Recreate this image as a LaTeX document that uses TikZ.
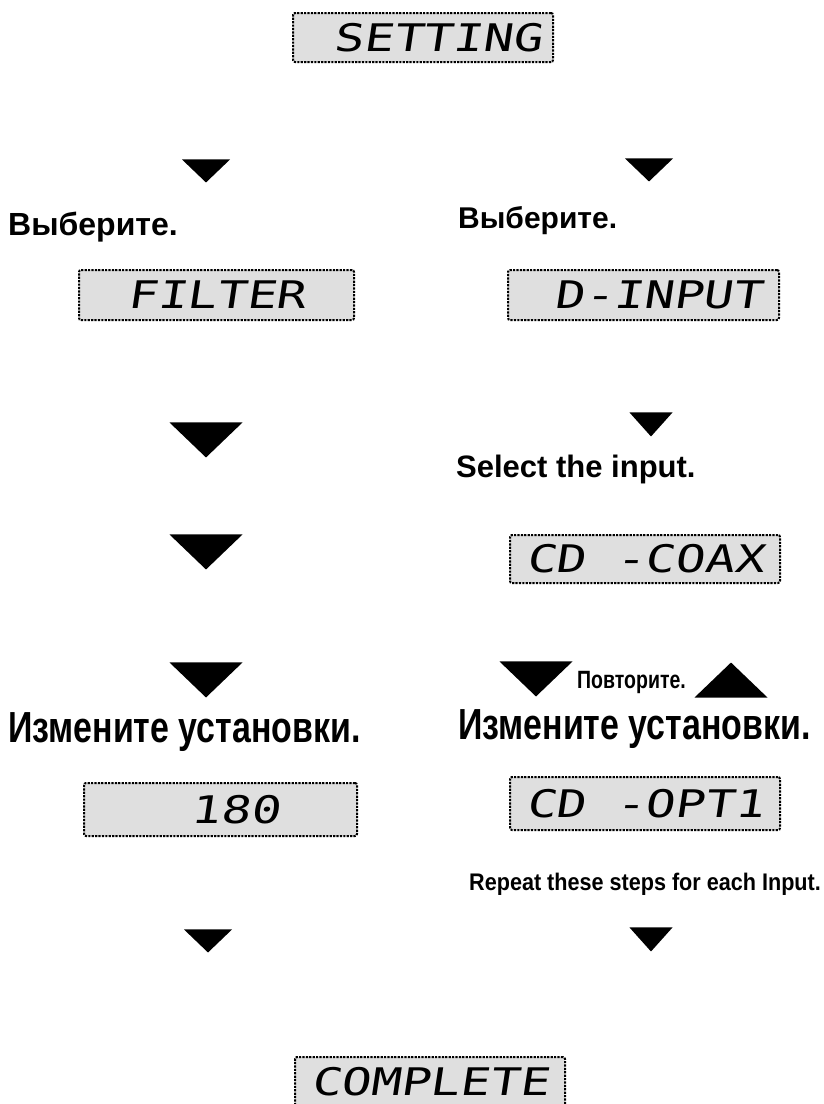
\documentclass[tikz,border=0pt]{standalone}
\usepackage{fontspec}
\newfontfamily\condfont[FakeStretch=0.78]{Liberation Sans}
\newfontfamily\notefont[FakeStretch=0.9]{Liberation Sans}
\newfontfamily\stepfont{Liberation Sans}
\newfontfamily\lcdfont[FakeStretch=1.3,FakeSlant=0.15]{DejaVu Sans Mono}
\usepackage{tikz}
\usetikzlibrary{shapes.geometric,positioning}

\begin{document}
\begin{tikzpicture}[
  x=1pt,
  y=-1pt,
  lcd/.style={
    draw,
    line width=2pt,
    dash pattern=on 2.2pt off 1.2pt,
    fill=gray!25,
    rounded corners=2pt,
    minimum width=270,
    minimum height=50,
    inner sep=0pt,
    font=\lcdfont\fontsize{38}{38}\selectfont
    },
  down/.style={
    isosceles triangle,
    isosceles triangle stretches,
    shape border rotate=-90,
    fill=black,
    inner sep=0pt,
    anchor=apex
    },
  up/.style={
    down,
    shape border rotate=90
    },
  bigtri/.style={minimum width=73, minimum height=35},
  midtri/.style={minimum width=48, minimum height=23},
  smalltri/.style={minimum width=43, minimum height=24},
  stepbox/.style={
    inner sep=0pt,
    anchor=base west,
    font=\stepfont\bfseries\fontsize{30}{30}\selectfont
    },
  headbox/.style={
    inner sep=0pt,
    anchor=base west,
    font=\condfont\bfseries\fontsize{43.5}{44}\selectfont
    },
  notebox/.style={
    inner sep=0pt,
    anchor=base west,
    font=\notefont\bfseries\fontsize{24}{24}\selectfont
    }
]
\useasboundingbox (0,0) rectangle (824,1104);

% displays
\node[lcd, minimum width=260, minimum height=49] (setting) at (423,37.5) {\phantom{X}SETTING};
\node[lcd, minimum width=275] (filter) at (216.5,295) {\phantom{X}FILTER\phantom{X}};
\node[lcd, minimum width=271] (dinput) at (643.5,295) {\phantom{X}D-INPUT};
\node[lcd, minimum height=48] (coax) at (645,559) {CD\phantom{X}-COAX};
\node[lcd, minimum width=273, minimum height=53] (freq) at (220.5,809.5) {\phantom{XXX}180\phantom{XX}};
\node[lcd, minimum height=53] (opt) at (645,803.5) {CD\phantom{X}-OPT1};
\node[lcd] (complete) at (430,1082) {COMPLETE};

% left column
\node[down, midtri] (topl) at (206,183) {};
\node[stepbox, font=\stepfont\bfseries\fontsize{32}{32}\selectfont] (pickl) at (8,235) {Выберите.};
\node[down, bigtri] (l1) at (206,458) {};
\node[down, bigtri] (l2) at (206,570) {};
\node[down, bigtri] (l3) at (206,698) {};
\node[headbox] (setl) at (8,742) {Измените установки.};
\node[down, midtri] (botl) at (208,953) {};

% right column
\node[down, midtri] (topr) at (649,182) {};
\node[stepbox] (pickr) at (458,228) {Выберите.};
\node[down, smalltri] (r1) at (651,437) {};
\node[stepbox, font=\stepfont\bfseries\fontsize{31}{31}\selectfont] (input) at (456,477) {Select the input.};
\node[down, bigtri] (rdn) at (536,697) {};
\node[notebox, font=\condfont\bfseries\fontsize{25}{25}\selectfont] (again) at (577,688) {Повторите.};
\node[up, bigtri] (rup) at (731,662) {};
\node[headbox] (setr) at (458,739) {Измените установки.};
\node[notebox] (each) at (469,890) {Repeat these steps for each Input.};
\node[down, smalltri] (botr) at (651,952) {};

\end{tikzpicture}
\end{document}
